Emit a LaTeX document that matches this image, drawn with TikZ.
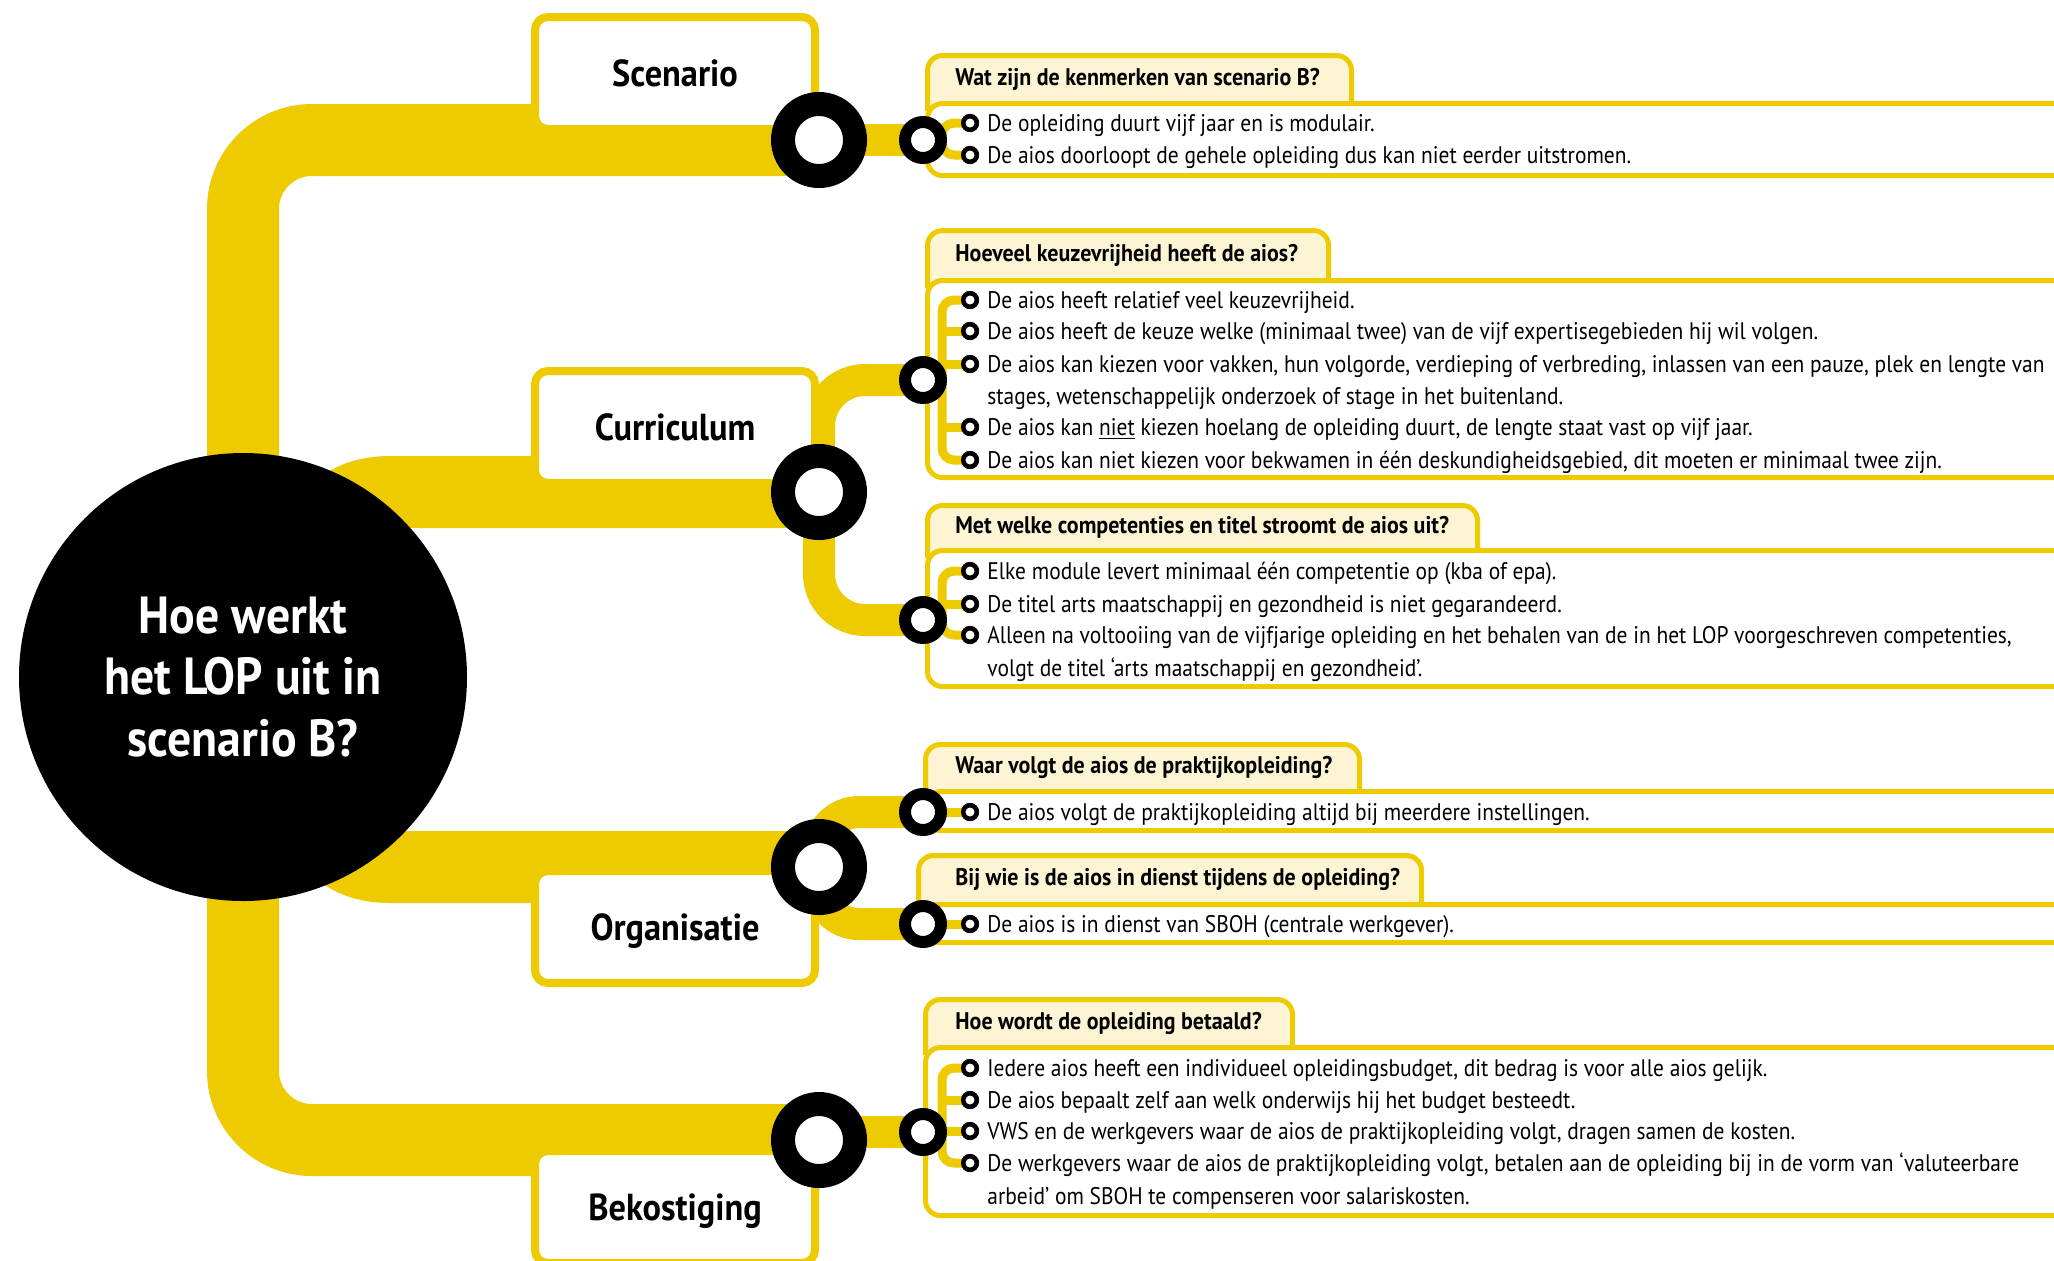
\documentclass[tikz,border=0pt]{standalone}
\usepackage{fontspec}
\setmainfont{PT Sans}[FakeStretch=0.894, BoldFeatures={FakeStretch=0.915}]
\definecolor{ylw}{RGB}{238,202,0}
\definecolor{cream}{RGB}{253,244,212}
\begin{document}
\begin{tikzpicture}[x=0.5pt,y=-0.5pt,
  trunk/.style={draw=ylw, line width=36pt, rounded corners=34.5pt},
  limb/.style={draw=ylw, line width=16pt, rounded corners=23pt},
  twig/.style={draw=ylw, line width=4.5pt, rounded corners=6pt},
  bigring/.style={circle, draw=black, line width=12pt, fill=white, minimum size=36pt, inner sep=0pt},
  smallring/.style={circle, draw=black, line width=6pt, fill=white, minimum size=18pt, inner sep=0pt},
  bul/.style={circle, draw=black, line width=2.25pt, fill=white, minimum size=6.75pt, inner sep=0pt},
  catbox/.style={rectangle, draw=ylw, line width=4pt, fill=white, rounded corners=6.5pt,
    minimum width=140pt, minimum height=56pt, inner sep=0pt,
    font=\bfseries\fontsize{18.8}{22}\selectfont, text height=14pt, text depth=0.6pt},
  hub/.style={circle, fill=black, minimum size=224pt, inner sep=0pt, text=white, align=center,
    font=\bfseries\fontsize{26.1}{30.8}\selectfont},
  qtab/.style={draw=ylw, line width=2.5pt, fill=cream, rounded corners=7.5pt},
  qpanel/.style={draw=ylw, line width=2.5pt, fill=white, rounded corners=7.5pt},
  qtext/.style={anchor=west, inner sep=0pt, text height=10.2pt, text depth=1.8pt,
    font=\bfseries\fontsize{12}{14}\selectfont},
  itext/.style={anchor=west, inner sep=0pt, text height=10.2pt, text depth=1.8pt,
    font=\fontsize{12}{14}\selectfont}
]
\useasboundingbox (0,0) rectangle (2054,1260);
\fill[white] (0,0) rectangle (2054,1260);

% ---------- positions of rings ----------
\coordinate (p1) at (819,140);
\coordinate (p2) at (819,492);
\coordinate (p3) at (819,867);
\coordinate (p4) at (819,1140);
\coordinate (hubc) at (243,677);

% ---------- trunk and main bands ----------
\draw[trunk] (p1) -| (hubc) |- (p4);
\fill[ylw] (819,456) -- (390,456) .. controls (340,456) and (300,480) .. (290,528) -- (819,528) -- cycle;
\fill[ylw] (819,903) -- (390,903) .. controls (340,903) and (300,879) .. (290,831) -- (819,831) -- cycle;

% ---------- small ring coordinates ----------
\coordinate (q1) at (923,140);
\coordinate (q2) at (923,380);
\coordinate (q3) at (923,620);
\coordinate (q4) at (923,812);
\coordinate (q5) at (923,924);
\coordinate (q6) at (923,1132);

% ---------- limbs from big rings to small rings ----------
\draw[limb] (p1) -- (q1);
\draw[limb] (p2) |- (q2);
\draw[limb] (p2) |- (q3);
\draw[limb, rounded corners=20pt] (p3) |- (q4);
\draw[limb, rounded corners=20pt] (p3) |- (q5);
\draw[limb] (p4 |- q6) -- (q6);

% ---------- hub ----------
\node[hub] (hub) at (hubc) {Hoe werkt\\het LOP uit in\\scenario B?};

% ---------- category boxes ----------
\node[catbox] (cat1) at (675,73) {Scenario};
\node[catbox] (cat2) at (675,427) {Curriculum};
\node[catbox] (cat3) at (675,927) {Organisatie};
\node[catbox] (cat4) at (675,1207) {Bekostiging};

% ---------- question panels ----------
% S1
\draw[qtab] (927.5,111) -- (927.5,55.5) -- (1351.5,55.5) -- (1351.5,111);
\draw[qpanel] (2090,103.5) -- (927.5,103.5) -- (927.5,175.5) -- (2090,175.5);
% S2
\draw[qtab] (927.5,288) -- (927.5,230.5) -- (1328.5,230.5) -- (1328.5,288);
\draw[qpanel] (2090,280.5) -- (927.5,280.5) -- (927.5,477.5) -- (2090,477.5);
% S3
\draw[qtab] (927.5,558) -- (927.5,505.5) -- (1477.5,505.5) -- (1477.5,558);
\draw[qpanel] (2090,550.5) -- (927.5,550.5) -- (927.5,686.5) -- (2090,686.5);
% S4
\draw[qtab] (925.5,799) -- (925.5,744.5) -- (1359.5,744.5) -- (1359.5,799);
\draw[qpanel] (2090,791.5) -- (925.5,791.5) -- (925.5,830.5) -- (2090,830.5);
% S5
\draw[qtab] (918.5,912) -- (918.5,855.5) -- (1421.5,855.5) -- (1421.5,912);
\draw[qpanel] (2090,904.5) -- (918.5,904.5) -- (918.5,942.5) -- (2090,942.5);
% S6
\draw[qtab] (925.5,1055) -- (925.5,999.5) -- (1292.5,999.5) -- (1292.5,1055);
\draw[qpanel] (2090,1047.5) -- (925.5,1047.5) -- (925.5,1215.5) -- (2090,1215.5);

% ---------- bullets ----------
\node[bul] (b11) at (970,123) {};
\node[bul] (b12) at (970,155) {};
\node[bul] (b21) at (970,300) {};
\node[bul] (b22) at (970,331) {};
\node[bul] (b23) at (970,364) {};
\node[bul] (b24) at (970,427) {};
\node[bul] (b25) at (970,460) {};
\node[bul] (b31) at (970,571) {};
\node[bul] (b32) at (970,604) {};
\node[bul] (b33) at (970,635) {};
\node[bul] (b41) at (970,812) {};
\node[bul] (b51) at (970,924) {};
\node[bul] (b61) at (970,1068) {};
\node[bul] (b62) at (970,1100) {};
\node[bul] (b63) at (970,1131) {};
\node[bul] (b64) at (970,1163) {};

% ---------- twigs from small rings to bullets ----------
\coordinate (bar1) at (942,140);
\coordinate (bar2) at (942,380);
\coordinate (bar3) at (942,620);
\coordinate (bar6) at (942,1132);
\draw[twig] (b11.center) -| (bar1) |- (b12.center);
\draw[twig] (b21.center) -| (bar2) |- (b25.center);
\draw[twig] (bar2 |- b22.center) -- (b22.center);
\draw[twig] (bar2 |- b23.center) -- (b23.center);
\draw[twig] (bar2 |- b24.center) -- (b24.center);
\draw[twig] (b31.center) -| (bar3) |- (b33.center);
\draw[twig] (bar3 |- b32.center) -- (b32.center);
\draw[twig] (q4) -- (b41.center);
\draw[twig] (q5) -- (b51.center);
\draw[twig] (b61.center) -| (bar6) |- (b64.center);
\draw[twig] (bar6 |- b62.center) -- (b62.center);
\draw[twig] (bar6 |- b63.center) -- (b63.center);
\draw[twig] (q1) -- (bar1);
\draw[twig] (q2) -- (bar2);
\draw[twig] (q3) -- (bar3);
\draw[twig] (q6) -- (bar6);

% redraw bullets on top of twigs
\foreach \b in {b11,b12,b21,b22,b23,b24,b25,b31,b32,b33,b41,b51,b61,b62,b63,b64}
  \draw[black, line width=2.25pt, fill=white] (\b.center) circle (3.375pt);

% ---------- rings ----------
\node[bigring] (r1) at (p1) {};
\node[bigring] (r2) at (p2) {};
\node[bigring] (r3) at (p3) {};
\node[bigring] (r4) at (p4) {};
\node[smallring] (s1) at (q1) {};
\node[smallring] (s2) at (q2) {};
\node[smallring] (s3) at (q3) {};
\node[smallring] (s4) at (q4) {};
\node[smallring] (s5) at (q5) {};
\node[smallring] (s6) at (q6) {};

% ---------- questions ----------
\node[qtext] (h1) at (955,77) {Wat zijn de kenmerken van scenario B?};
\node[qtext] (h2) at (955,253) {Hoeveel keuzevrijheid heeft de aios?};
\node[qtext] (h3) at (955,525) {Met welke competenties en titel stroomt de aios uit?};
\node[qtext] (h4) at (955,765) {Waar volgt de aios de praktijkopleiding?};
\node[qtext] (h5) at (955,877) {Bij wie is de aios in dienst tijdens de opleiding?};
\node[qtext] (h6) at (955,1021) {Hoe wordt de opleiding betaald?};

% ---------- items ----------
\node[itext] (t11) at (987,123) {De opleiding duurt vijf jaar en is modulair.};
\node[itext] (t12) at (987,155) {De aios doorloopt de gehele opleiding dus kan niet eerder uitstromen.};

\node[itext] (t21) at (987,300) {De aios heeft relatief veel keuzevrijheid.};
\node[itext] (t22) at (987,331) {De aios heeft de keuze welke (minimaal twee) van de vijf expertisegebieden hij wil volgen.};
\node[itext] (t23) at (987,364) {De aios kan kiezen voor vakken, hun volgorde, verdieping of verbreding, inlassen van een pauze, plek en lengte van};
\node[itext] (t23b) at (987,396) {stages, wetenschappelijk onderzoek of stage in het buitenland.};
\node[itext] (t24) at (987,427) {De aios kan \underline{niet} kiezen hoelang de opleiding duurt, de lengte staat vast op vijf jaar.};
\node[itext] (t25) at (987,460) {De aios kan niet kiezen voor bekwamen in één deskundigheidsgebied, dit moeten er minimaal twee zijn.};

\node[itext] (t31) at (987,571) {Elke module levert minimaal één competentie op (kba of epa).};
\node[itext] (t32) at (987,604) {De titel arts maatschappij en gezondheid is niet gegarandeerd.};
\node[itext] (t33) at (987,635) {Alleen na voltooiing van de vijfjarige opleiding en het behalen van de in het LOP voorgeschreven competenties,};
\node[itext] (t33b) at (987,668) {volgt de titel ‘arts maatschappij en gezondheid’.};

\node[itext] (t41) at (987,812) {De aios volgt de praktijkopleiding altijd bij meerdere instellingen.};
\node[itext] (t51) at (987,924) {De aios is in dienst van SBOH (centrale werkgever).};

\node[itext] (t61) at (987,1068) {Iedere aios heeft een individueel opleidingsbudget, dit bedrag is voor alle aios gelijk.};
\node[itext] (t62) at (987,1100) {De aios bepaalt zelf aan welk onderwijs hij het budget besteedt.};
\node[itext] (t63) at (987,1131) {VWS en de werkgevers waar de aios de praktijkopleiding volgt, dragen samen de kosten.};
\node[itext] (t64) at (987,1163) {De werkgevers waar de aios de praktijkopleiding volgt, betalen aan de opleiding bij in de vorm van ‘valuteerbare};
\node[itext] (t64b) at (987,1196) {arbeid’ om SBOH te compenseren voor salariskosten.};
\end{tikzpicture}
\end{document}
